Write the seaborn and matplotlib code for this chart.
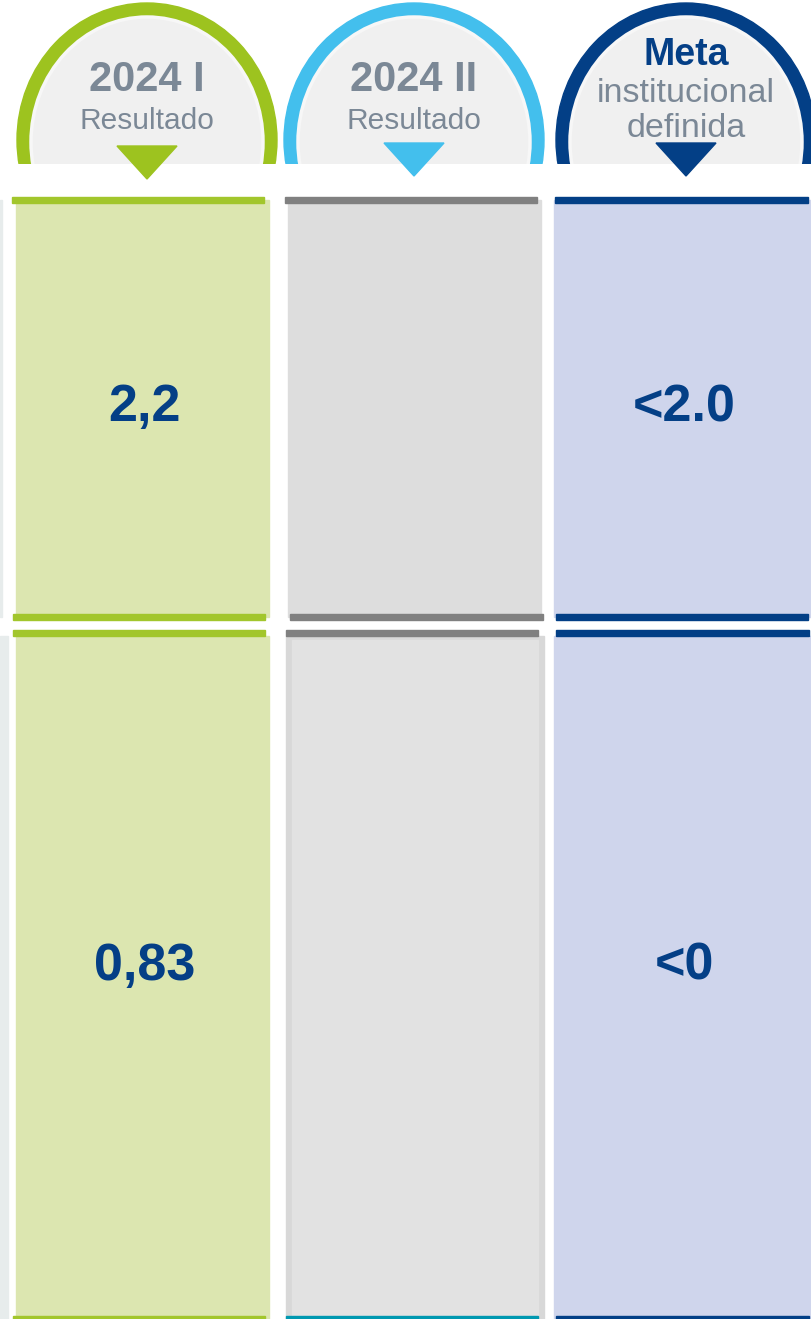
import matplotlib
matplotlib.use("Agg")
import matplotlib.pyplot as plt
from matplotlib.patches import Ellipse, Rectangle, Polygon
import seaborn as sns

# header texts
header_titles = ["2024 I", "2024 II", "Meta"]
header_subtitles = ["Resultado", "Resultado", "institucional\ndefinida"]

# cell values per row (empty = no result yet)
row1_values = ["2,2", "", "<2.0"]
row2_values = ["0,83", "", "<0"]

# palette
ring_colors = ["#9DC31F", "#43BFED", "#033F86"]
fill_row1 = ["#DCE6B0", "#DDDDDD", "#CFD5EC"]
fill_row2 = ["#DCE6B0", "#E2E2E2", "#CFD5EC"]
rule_colors = ["#A2C62C", "#808080", "#023F86"]
bottom_rule_colors = ["#A2C62C", "#0098B0", "#023F86"]
GREY_TXT = "#7B8896"
NAVY = "#043F86"

sns.set_theme(style="white")
plt.rcParams["font.family"] = ["Liberation Sans", "DejaVu Sans"]

W, H = 811, 1319
fig = plt.figure(figsize=(W / 100, H / 100), dpi=100)
ax = fig.add_axes([0, 0, 1, 1])
ax.set_xlim(0, W)
ax.set_ylim(H, 0)
ax.axis("off")

centers = [147, 414, 686]
fill_x = [(16, 269), (288, 541), (554, 811)]
rule_x = [(12, 264), (285, 537), (555, 808)]
rule_x_mid = [(13, 265), (290, 543), (556, 808)]

# header badges, cut flat at the bottom
clip = Rectangle((0, 0), W, 164, transform=ax.transData)
for i, cx in enumerate(centers):
    outer = Ellipse((cx, 140), 260, 274, color=ring_colors[i], zorder=1)
    inner = Ellipse((cx, 142), 232, 250, facecolor="#F0F0F0",
                    edgecolor="#F7F7F7", lw=2.5, zorder=2)
    for p in (outer, inner):
        ax.add_patch(p)
        p.set_clip_path(clip)
for i, cx in enumerate(centers):
    top = 146 if i == 0 else 143
    ax.add_patch(Polygon([(cx - 30, top), (cx + 30, top), (cx, top + 33)],
                         closed=True, color=ring_colors[i], zorder=4))

for i, cx in enumerate(centers):
    if i < 2:
        ax.text(cx, 91, header_titles[i], ha="center", va="baseline",
                fontsize=30, fontweight="bold", color=GREY_TXT, zorder=5)
        ax.text(cx, 129, header_subtitles[i], ha="center", va="baseline",
                fontsize=21.5, color=GREY_TXT, zorder=5)
    else:
        ax.text(cx, 65, header_titles[i], ha="center", va="baseline",
                fontsize=27, fontweight="bold", color=NAVY, zorder=5)
        l1, l2 = header_subtitles[i].split("\n")
        ax.text(cx, 102, l1, ha="center", va="baseline",
                fontsize=24.5, color=GREY_TXT, zorder=5)
        ax.text(cx, 137, l2, ha="center", va="baseline",
                fontsize=24.5, color=GREY_TXT, zorder=5)

# left light strip
ax.add_patch(Rectangle((0, 636), 8, H - 636, color="#E7ECEC", zorder=1))
ax.add_patch(Rectangle((0, 200), 2, 417, color="#E7ECEC", zorder=1))

# row 1
for i in range(3):
    x0, x1 = fill_x[i]
    ax.add_patch(Rectangle((x0, 200), x1 - x0, 417, color=fill_row1[i], zorder=1))
    r0, r1 = rule_x[i]
    ax.add_patch(Rectangle((r0, 197), r1 - r0, 6, color=rule_colors[i], zorder=2))
    m0, m1 = rule_x_mid[i]
    ax.add_patch(Rectangle((m0, 614), m1 - m0, 6, color=rule_colors[i], zorder=2))
    if row1_values[i]:
        ax.text(centers[i] - 2, 421, row1_values[i], ha="center", va="baseline",
                fontsize=37.5, fontweight="bold", color=NAVY, zorder=5)

# row 2
for i in range(3):
    x0, x1 = fill_x[i]
    if i == 1:
        ax.add_patch(Rectangle((286, 636), 258, H - 636, color="#D8D8D8", zorder=1))
        ax.add_patch(Rectangle((292, 640), 246, H - 640, color=fill_row2[i], zorder=1))
    else:
        ax.add_patch(Rectangle((x0, 636), x1 - x0, H - 636, color=fill_row2[i], zorder=1))
    r0, r1 = rule_x[i]
    ax.add_patch(Rectangle((r0 + 1, 630), r1 - r0, 6, color=rule_colors[i], zorder=2))
    ax.add_patch(Rectangle((r0 + 1, 1316), r1 - r0, 3, color=bottom_rule_colors[i], zorder=2))
    if row2_values[i]:
        ax.text(centers[i] - 2, 980, row2_values[i], ha="center", va="baseline",
                fontsize=37.5, fontweight="bold", color=NAVY, zorder=5)

fig.savefig("out.png", dpi=100, facecolor="white")
plt.close(fig)
